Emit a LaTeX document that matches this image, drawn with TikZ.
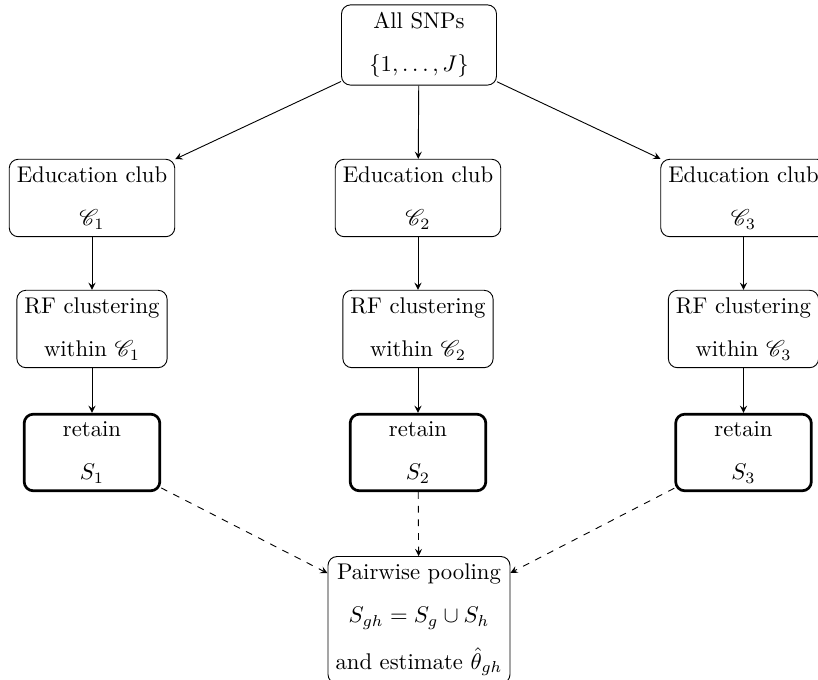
\documentclass[tikz,border=0pt]{standalone}
\usepackage{amsmath,amssymb}
\usepackage{mathrsfs}
\usepackage{tikz}
\usetikzlibrary{arrows}

\tikzset{
  box/.style={draw, rounded corners, align=center},
  keep/.style={box, very thick, minimum width=2.1cm},
}

\begin{document}
\begin{tikzpicture}[x=0.4405pt,y=-0.4405pt,>=stealth]
\useasboundingbox (0,0) rectangle (818,680);

% source
\node[box, minimum width=2.4cm] (snps) at (419,45) {All SNPs\\[7pt]$\{1,\dots,J\}$};

% clubs
\node[box] (club1) at (92,198) {Education club\\[7pt]$\mathscr{C}_1$};
\node[box] (club2) at (418,198) {Education club\\[7pt]$\mathscr{C}_2$};
\node[box] (club3) at (743.5,198) {Education club\\[7pt]$\mathscr{C}_3$};

% clustering
\node[box] (rf1) at (92,329) {RF clustering\\[7pt]within $\mathscr{C}_1$};
\node[box] (rf2) at (418,329) {RF clustering\\[7pt]within $\mathscr{C}_2$};
\node[box] (rf3) at (743.5,329) {RF clustering\\[7pt]within $\mathscr{C}_3$};

% kept sets
\node[keep] (ret1) at (92,452.5) {retain\\[7pt]$S_1$};
\node[keep] (ret2) at (418,452.5) {retain\\[7pt]$S_2$};
\node[keep] (ret3) at (743.5,452.5) {retain\\[7pt]$S_3$};

% pooling
\node[box] (pool) at (419,620) {Pairwise pooling\\[7pt]$S_{gh} = S_g \cup S_h$\\[7pt]and estimate $\hat{\theta}_{gh}$};

% arrows
\draw[->] (snps) -- (club1);
\draw[->] (snps) -- (club2);
\draw[->] (snps) -- (club3);
\draw[->] (club1) -- (rf1);
\draw[->] (club2) -- (rf2);
\draw[->] (club3) -- (rf3);
\draw[->] (rf1) -- (ret1);
\draw[->] (rf2) -- (ret2);
\draw[->] (rf3) -- (ret3);
\draw[->,dashed] (ret1) -- (pool);
\draw[->,dashed] (ret2) -- (pool);
\draw[->,dashed] (ret3) -- (pool);
\end{tikzpicture}
\end{document}
